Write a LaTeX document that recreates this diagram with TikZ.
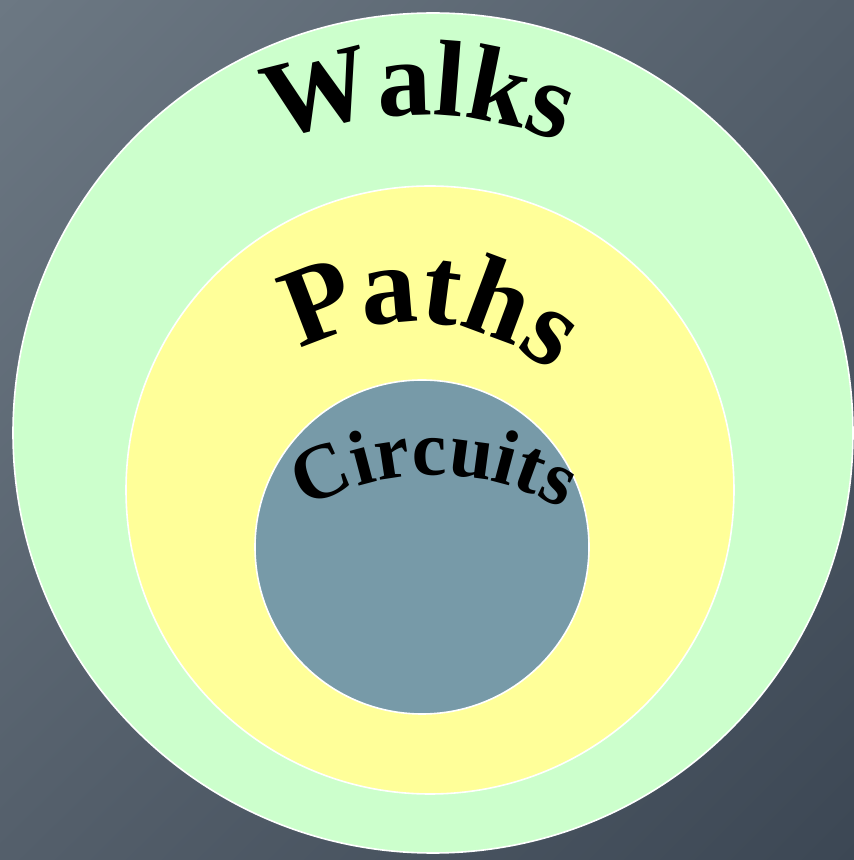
\documentclass[tikz,border=0pt]{standalone}
\usepackage{fontspec}
\setmainfont{Liberation Serif}
\usetikzlibrary{decorations.text, shadings}
\definecolor{bgtop}{RGB}{108,120,131}
\definecolor{bgmid}{RGB}{84,95,107}
\definecolor{bgbottom}{RGB}{60,71,84}
\definecolor{walkgreen}{RGB}{204,255,204}
\definecolor{pathyellow}{RGB}{255,255,153}
\definecolor{circuitblue}{RGB}{119,154,168}
\newcommand{\ringfont}[1]{\bfseries\fontsize{#1}{#1}\selectfont}

\begin{document}
\begin{tikzpicture}[x=1pt, y=1pt,
  ring/.style={draw=white, line width=1.6pt},
  arclabel/.style={decorate, decoration={text along path, text align=center, text={#1}}}]
  % background
  \shade[upper left=bgtop, upper right=bgmid, lower left=bgmid, lower right=bgbottom]
    (0,0) rectangle (854,860);

  % nested sets
  \filldraw[ring, fill=walkgreen] (433,427) circle (420pt);
  \filldraw[ring, fill=pathyellow] (430,370) circle (304pt);
  \filldraw[ring, fill=circuitblue] (422,313) circle (167pt);

  % curved labels
  \path[arclabel={|\ringfont{108}|Walks}]
    (418,365) ++(140:380pt) arc[start angle=140, end angle=40, radius=380pt];
  \path[arclabel={|\ringfont{112}|Paths}]
    (410,318) ++(155:220pt) arc[start angle=155, end angle=15, radius=220pt];
  \path[arclabel={|\ringfont{78}|Circuits}]
    (434,125) ++(150:260pt) arc[start angle=150, end angle=30, radius=260pt];
\end{tikzpicture}
\end{document}
